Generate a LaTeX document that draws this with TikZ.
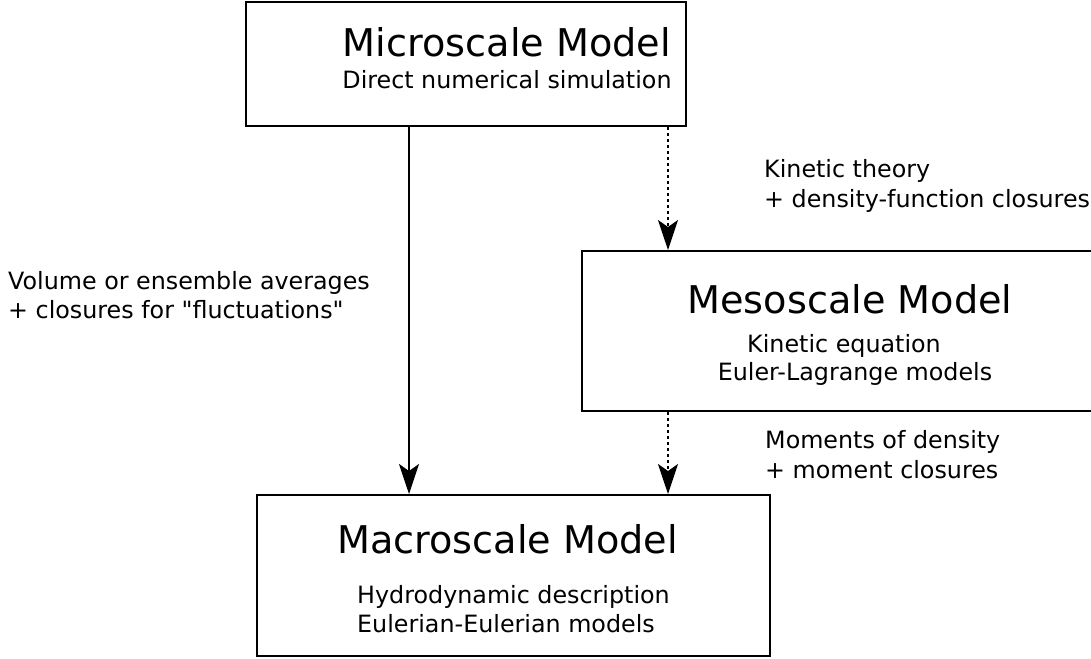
\documentclass[tikz,border=0pt]{standalone}
\usepackage{fontspec}
\setmainfont{DejaVu Sans}
\usetikzlibrary{arrows.meta}
\begin{document}
\begin{tikzpicture}[x=1pt,y=-1pt,
  box/.style={draw, line width=2pt, inner sep=0pt, fill=none},
  ttl/.style={inner sep=0pt, font=\fontsize{38.2}{46}\selectfont},
  sub/.style={inner sep=0pt, font=\fontsize{23.8}{28}\selectfont},
  solidarr/.style={line width=1.6pt, -{Stealth[length=30pt, width=20pt, inset=7pt]}},
  dotarr/.style={line width=1.6pt, dash pattern=on 3pt off 3pt, -{Stealth[length=30pt, width=20pt, inset=7pt]}}]
\useasboundingbox (0,0) rectangle (1091,658);
\clip (0,0) rectangle (1091,658);
% boxes
\node[box, minimum width=440pt, minimum height=124pt] (micro) at (466,64) {};
\node[box, minimum width=538pt, minimum height=160pt] (meso) at (851,331) {};
\node[box, minimum width=513pt, minimum height=161pt] (macro) at (513.5,575.5) {};
% box texts
\node[ttl, anchor=base] (microT) at (507,57) {Microscale Model};
\node[sub, anchor=base] (microS) at (507,89) {Direct numerical simulation};
\node[ttl, anchor=base] (mesoT) at (850,313) {Mesoscale Model};
\node[sub, anchor=base] (mesoS1) at (844,352) {Kinetic equation};
\node[sub, anchor=base] (mesoS2) at (855,380) {Euler-Lagrange models};
\node[ttl, anchor=base] (macroT) at (507.5,553) {Macroscale Model};
\node[sub, anchor=base west] (macroS1) at (357,603) {Hydrodynamic description};
\node[sub, anchor=base west] (macroS2) at (357,632) {Eulerian-Eulerian models};
% labels
\node[sub, anchor=base west] (lv1) at (8,289) {Volume or ensemble averages};
\node[sub, anchor=base west] (lv2) at (8,318) {+ closures for \textquotedbl fluctuations\textquotedbl};
\node[sub, anchor=base west] (lk1) at (764,177) {Kinetic theory};
\node[sub, anchor=base west] (lk2) at (764,207) {+ density-function closures};
\node[sub, anchor=base west] (lm1) at (765,448) {Moments of density};
\node[sub, anchor=base west] (lm2) at (765,478) {+ moment closures};
% connectors
\coordinate (xa) at (409,0);
\coordinate (xb) at (668,0);
\draw[solidarr] (micro.south -| xa) -- (macro.north -| xa);
\draw[dotarr] (micro.south -| xb) -- (meso.north -| xb);
\draw[dotarr] (meso.south -| xb) -- (macro.north -| xb);
\end{tikzpicture}
\end{document}
